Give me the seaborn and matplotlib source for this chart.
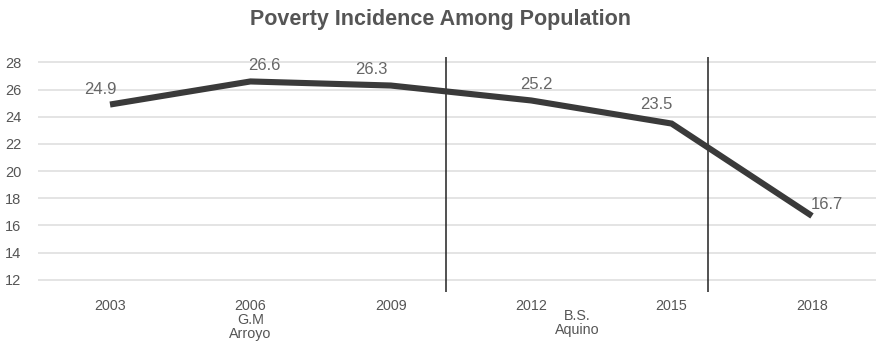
import matplotlib
matplotlib.use("Agg")
import matplotlib.pyplot as plt
import matplotlib.transforms as mtransforms
import seaborn as sns
import pandas as pd

years = ["2003", "2006", "2009", "2012", "2015", "2018"]
poverty = [24.9, 26.6, 26.3, 25.2, 23.5, 16.7]
tick_labels = ["2003", "2006\nG.M\nArroyo", "2009", "2012", "2015", "2018"]
yticks = [12, 14, 16, 18, 20, 22, 24, 26, 28]
# administration boundaries (category coordinates) and second president label
term_breaks = [2.393, 4.259]
aquino_label = "B.S.\nAquino"
aquino_pos = 3.33

# per-label offsets in pixels (dx, dy)
label_offsets = [(-10, 15), (14, 16), (-19, 16), (5, 16), (-15, 19), (15, 11)]

sns.set_theme(style="white")
plt.rcParams["font.family"] = ["Liberation Sans", "DejaVu Sans"]

df = pd.DataFrame({"year": years, "poverty": poverty})

fig = plt.figure(figsize=(8.76, 3.47), dpi=100)
ax = fig.add_axes([38 / 876, 1 - 292 / 347, 1 - 38 / 876, (292 - 57) / 347])

ax.set_xlim(-0.513, 5.456)
ax.set_ylim(11.1, 28.4)

for y in yticks:
    ax.axhline(y, color="#dddddd", lw=1.1, zorder=0)

for xb in term_breaks:
    ax.axvline(xb, color="#222222", lw=1.1, zorder=1)

sns.lineplot(data=df, x="year", y="poverty", ax=ax, color="#3a3a3a",
             linewidth=4.4, sort=False, zorder=3)
for line in ax.lines[-1:]:
    line.set_solid_capstyle("butt")
    line.set_solid_joinstyle("miter")

for i, (v, (dx, dy)) in enumerate(zip(poverty, label_offsets)):
    ax.annotate(f"{v}", xy=(i, v), xytext=(dx, dy), textcoords="offset pixels",
                ha="center", va="center", fontsize=12, color="#666666", zorder=4)

ax.set_xticks(range(len(years)))
ax.set_xticklabels(tick_labels, fontsize=10.3, color="#555555", linespacing=1.0)
ax.set_yticks(yticks)
ax.set_yticklabels([str(t) for t in yticks], fontsize=10.5, color="#555555")
ax.tick_params(axis="x", length=0, pad=5)
ax.tick_params(axis="y", length=0, pad=12)

trans = mtransforms.blended_transform_factory(ax.transData, fig.transFigure)
ax.text(aquino_pos, 1 - 323 / 347, aquino_label, transform=trans, ha="center",
        va="center", fontsize=10.3, color="#555555", linespacing=1.0)

ax.set_xlabel("")
ax.set_ylabel("")
for s in ax.spines.values():
    s.set_visible(False)

fig.text(441 / 876, 1 - 19 / 347, "Poverty Incidence Among Population",
         ha="center", va="center", fontsize=15.5, fontweight="bold", color="#555555")

fig.savefig("out.png", dpi=100)
